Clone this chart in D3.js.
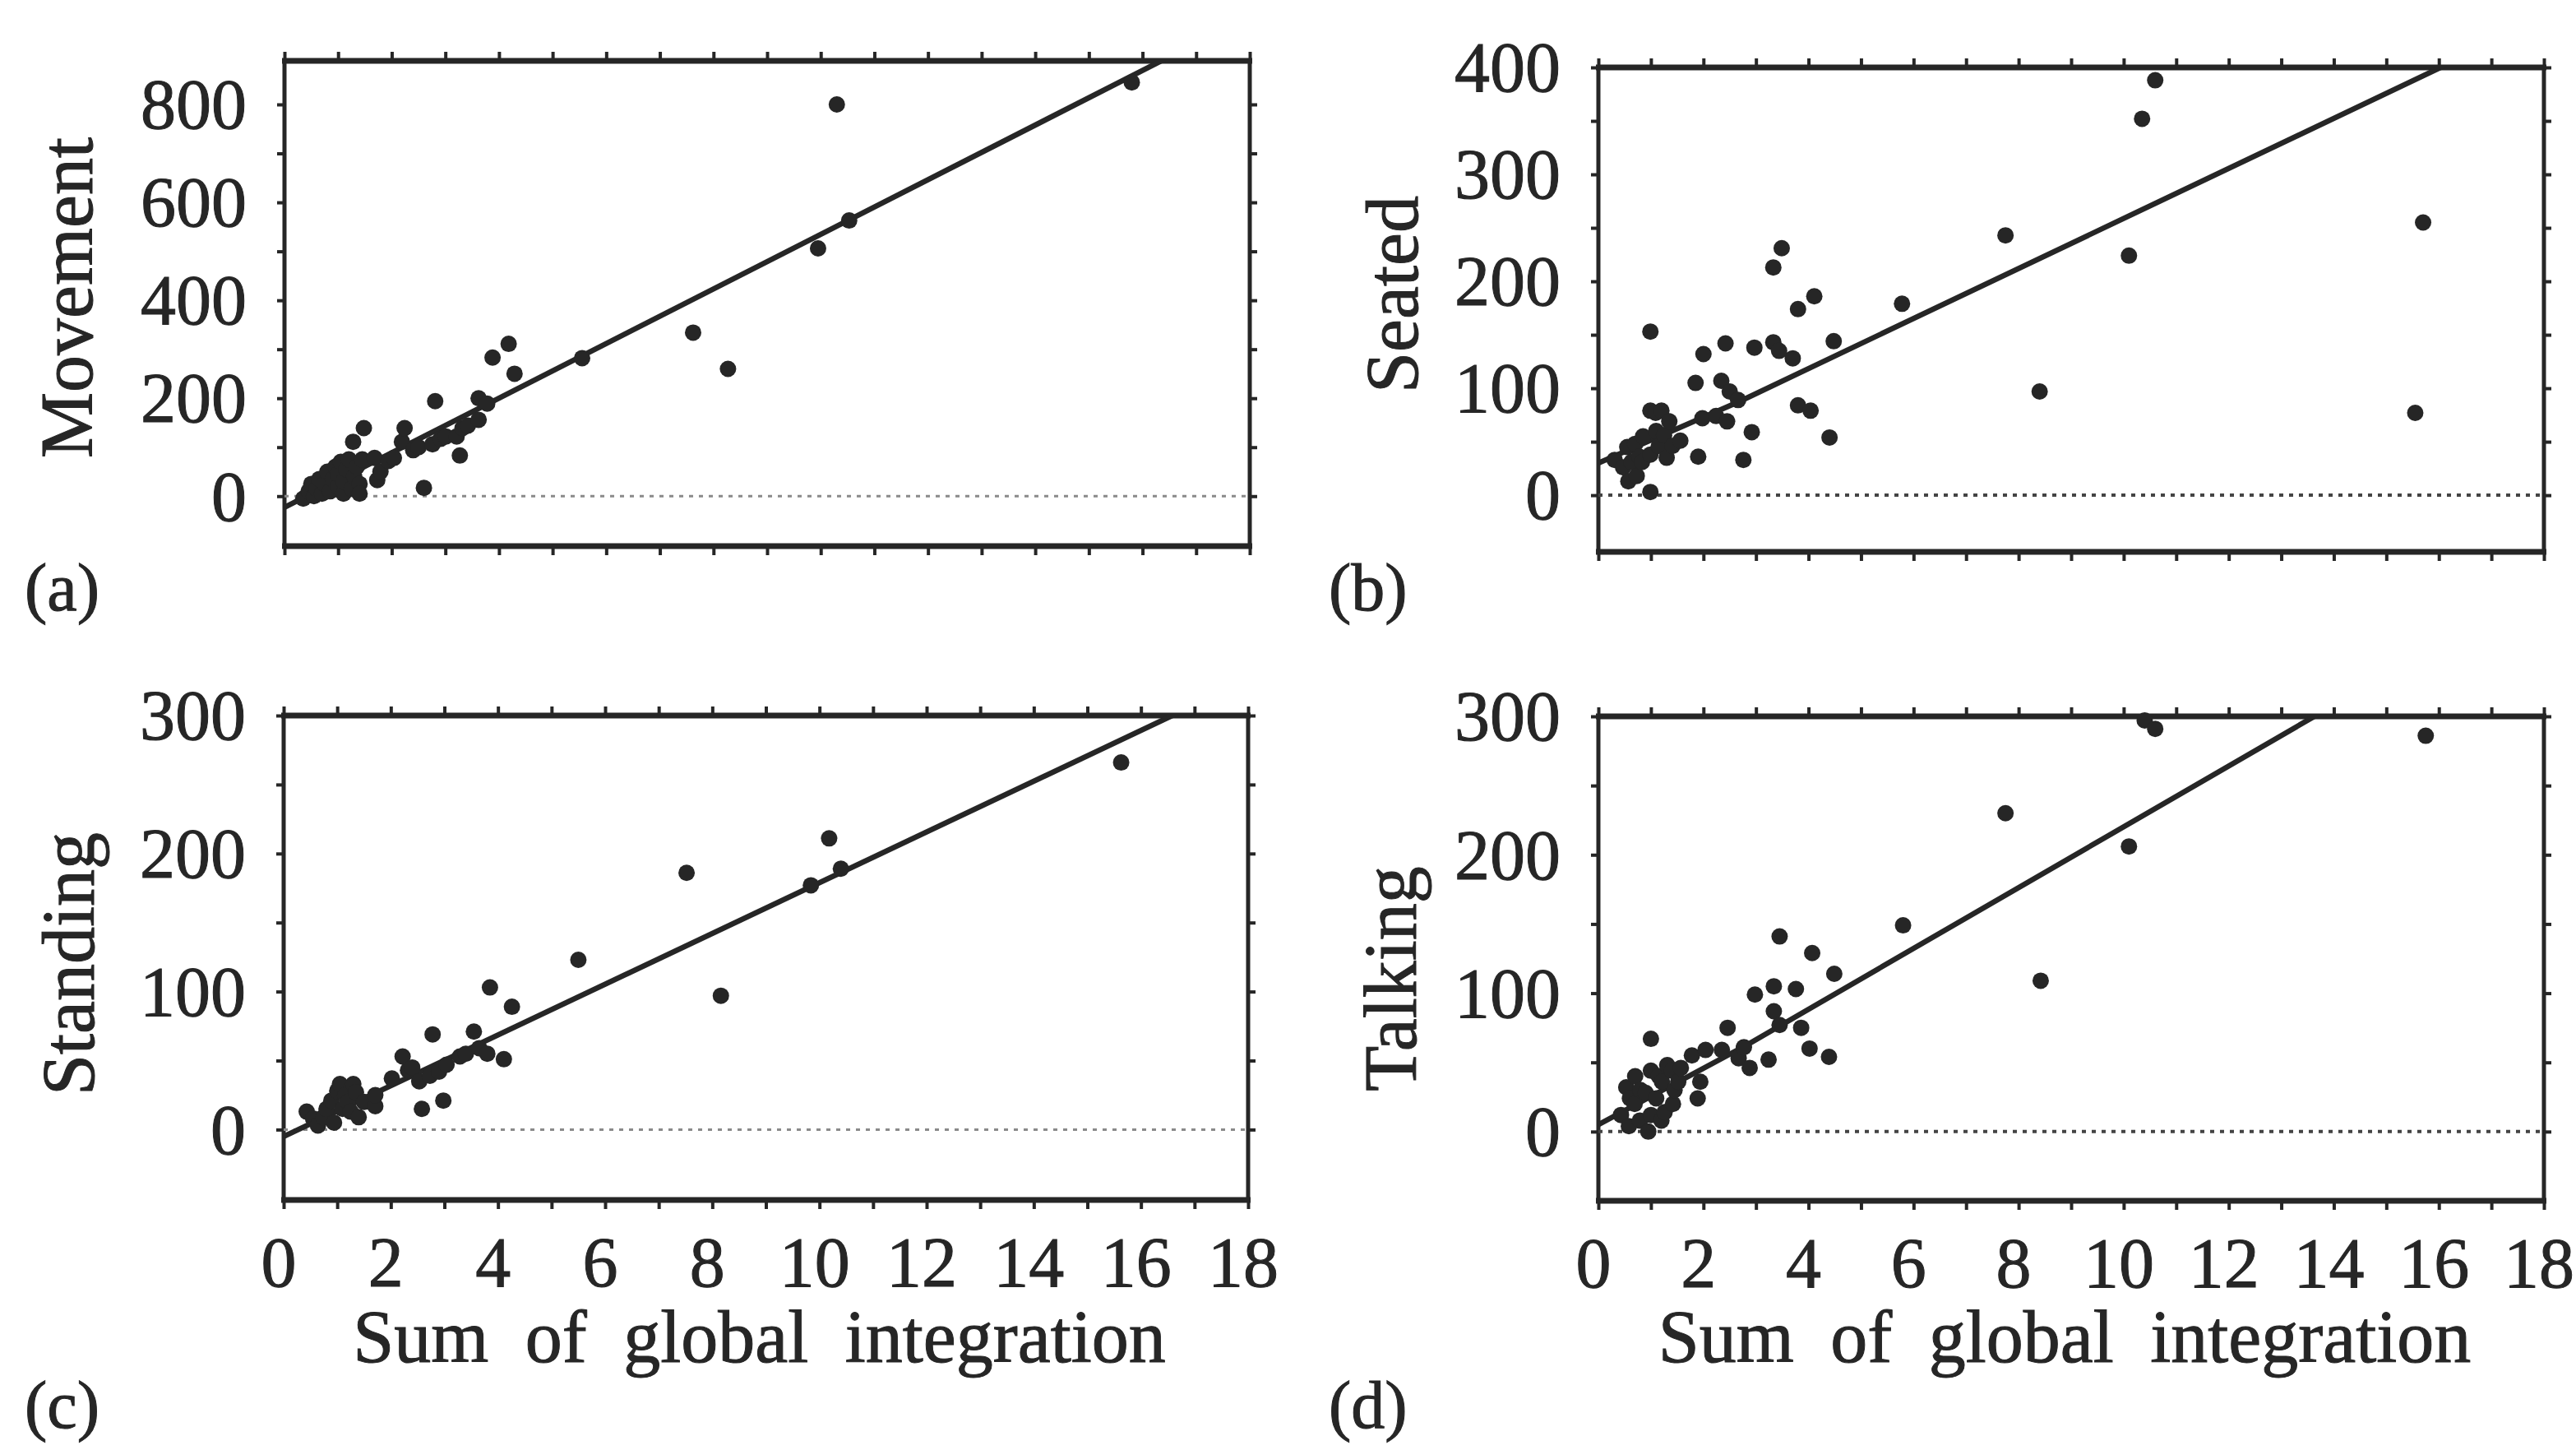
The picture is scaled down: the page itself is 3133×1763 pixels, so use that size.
<!DOCTYPE html>
<html>
<head>
<meta charset="utf-8">
<script src="https://cdn.jsdelivr.net/npm/d3@7"></script>
<style>
body { margin: 0; background: #fff; }
svg { display: block; font-family: "Liberation Serif", "Times New Roman", serif; }
</style>
</head>
<body>
<svg id="chart"></svg>
<script>
var width = 3133,
    height = 1763

// x values: sum of global integration
var xTickLabels = [0, 2, 4, 6, 8, 10, 12, 14, 16, 18]

// (a) Movement
var movement = [[0.35,-5],[0.45,10],[0.5,25],[0.55,0],[0.6,15],[0.65,35],[0.7,5],[0.75,25],[0.8,50],[0.85,10],
    [0.9,35],[0.95,60],[1.0,20],[1.0,45],[1.05,70],[1.1,5],[1.1,30],[1.15,55],[1.2,75],[1.25,15],[1.3,40],
    [1.35,60],[1.4,25],[1.4,5],[1.45,75],[1.28,111],[1.48,139],[1.68,78],[1.73,33],[1.79,50],[1.94,72],
    [2.04,78],[2.19,111],[2.24,139],[2.4,94],[2.5,100],[2.6,17],[2.76,106],[2.81,194],[2.91,117],[3.01,122],
    [3.21,122],[3.27,83],[3.32,139],[3.42,144],[3.62,156],[3.62,200],[3.78,189],[3.88,283],[4.18,311],
    [4.29,250],[5.55,282],[7.62,334],[8.27,260],[9.95,506],[10.3,800],[10.53,563],[15.8,845]]
var movementFit = [[0, -23], [18, 981]]
var movementTicks = [0, 200, 400, 600, 800]

// (b) Seated
var seated = [[0.31,33],[0.47,26],[0.55,45],[0.57,13],[0.63,31],[0.7,48],[0.73,18],[0.78,36],[0.83,31],
    [0.85,55],[0.99,3],[0.99,38],[0.99,79],[1.09,77],[1.1,60],[1.15,46],[1.2,79],[1.25,56],[1.3,35],
    [1.35,69],[1.41,46],[1.56,51],[0.99,153],[1.85,105],[1.9,36],[1.98,72],[2.0,132],[2.24,74],[2.34,107],
    [2.42,142],[2.45,69],[2.5,97],[2.66,89],[2.76,33],[2.92,59],[2.97,138],[3.33,143],[3.33,213],[3.44,135],
    [3.49,231],[3.7,128],[3.8,174],[3.8,84],[4.04,79],[4.11,186],[4.4,54],[4.48,144],[5.78,179],[7.75,243],
    [8.4,97],[10.1,224],[10.35,352],[10.6,388],[15.7,255],[15.55,77]]
var seatedFit = [[0, 30], [2.7, 88], [18, 446]]
var seatedTicks = [0, 100, 200, 300, 400]

// (c) Standing
var standing = [[0.43,13],[0.55,8],[0.64,3],[0.74,9],[0.8,15],[0.89,21],[0.94,5],[1.0,28],[1.05,33],[1.1,15],
    [1.15,25],[1.2,20],[1.25,13],[1.3,33],[1.35,27],[1.4,9],[1.5,20],[1.71,17],[1.71,25],[2.02,37],[2.22,53],
    [2.32,43],[2.4,45],[2.53,35],[2.58,15],[2.73,39],[2.78,69],[2.9,42],[2.98,21],[3.04,47],[3.29,53],
    [3.4,55],[3.55,71],[3.65,59],[3.8,55],[3.85,103],[4.11,51],[4.26,89],[5.5,123],[7.52,186],[8.16,97],
    [9.84,177],[10.18,211],[10.4,189],[15.63,266]]
var standingFit = [[0, -5], [18, 326]]
var standingTicks = [0, 100, 200, 300]

// (d) Talking
var talking = [[0.43,12],[0.53,32],[0.58,4],[0.6,24],[0.69,20],[0.7,40],[0.79,8],[0.8,30],[0.9,28],[0.95,0],
    [1.0,12],[1.0,44],[1.0,67],[1.1,24],[1.15,40],[1.2,8],[1.21,36],[1.26,14],[1.31,48],[1.4,44],[1.42,20],
    [1.45,30],[1.52,36],[1.57,46],[1.78,55],[1.89,24],[1.94,36],[2.04,59],[2.35,59],[2.46,75],[2.67,53],
    [2.77,61],[2.88,46],[2.98,99],[3.24,52],[3.34,105],[3.34,87],[3.45,77],[3.45,141],[3.76,103],[3.86,75],
    [4.02,60],[4.07,129],[4.39,54],[4.49,114],[5.8,149],[7.75,230],[8.42,109],[10.1,206],[10.4,297],
    [10.6,291],[15.75,286]]
var talkingFit = [[0, 5], [2.8, 62], [18, 396]]
var talkingTicks = [0, 100, 200, 300]

var panels = [
    {name: "Movement", tag: "(a)", data: movement, fit: movementFit, labels: movementTicks, step: 100,
     box: {l: 346, t: 74, r: 1520, b: 664}, yDom: [-102, 889], xLabels: false,
     title: [112, 362], tagPos: [30, 742], zero: ["#8a8a8a", 3]},
    {name: "Seated", tag: "(b)", data: seated, fit: seatedFit, labels: seatedTicks, step: 50,
     box: {l: 1944, t: 82, r: 3094, b: 671}, yDom: [-53, 400], xLabels: false,
     title: [1724, 358], tagPos: [1616, 742], zero: ["#444", 4]},
    {name: "Standing", tag: "(c)", data: standing, fit: standingFit, labels: standingTicks, step: 50,
     box: {l: 345, t: 870, r: 1518, b: 1459}, yDom: [-51, 300], xLabels: true,
     title: [114, 1172], tagPos: [30, 1736], zero: ["#8a8a8a", 3]},
    {name: "Talking", tag: "(d)", data: talking, fit: talkingFit, labels: talkingTicks, step: 50,
     box: {l: 1944, t: 871, r: 3094, b: 1460}, yDom: [-50, 300], xLabels: true,
     title: [1722, 1190], tagPos: [1616, 1736], zero: ["#444", 4]}
]

var ink = "#262626"

var svg = d3.select("#chart").attr("width", width).attr("height", height)
svg.append("rect").attr("width", width).attr("height", height).attr("fill", "#fff")

panels.forEach(function(p, i) {
    var b = p.box
    var x = d3.scaleLinear().domain([0, 18]).range([b.l, b.r])
    var y = d3.scaleLinear().domain(p.yDom).range([b.b, b.t])
    var g = svg.append("g")

    g.append("clipPath").attr("id", "clip" + i)
        .append("rect").attr("x", b.l).attr("y", b.t).attr("width", b.r - b.l).attr("height", b.b - b.t)

    // ticks every unit on top and bottom, every step on the sides
    var xMinor = d3.range(0, 19, 1)
    var yMinor = d3.range(0, p.yDom[1] + 0.1, p.step)

    var styleAxis = function(sel) {
        sel.select(".domain").remove()
        sel.selectAll(".tick line").attr("stroke", ink).attr("stroke-width", 4)
    }
    g.append("g").attr("transform", "translate(0," + b.t + ")")
        .call(d3.axisTop(x).tickValues(xMinor).tickSize(11).tickFormat("")).call(styleAxis)
    g.append("g").attr("transform", "translate(0," + b.b + ")")
        .call(d3.axisBottom(x).tickValues(xMinor).tickSize(11).tickFormat("")).call(styleAxis)
    g.append("g").attr("transform", "translate(" + b.l + ",0)")
        .call(d3.axisLeft(y).tickValues(yMinor).tickSize(9).tickFormat("")).call(styleAxis)
    g.append("g").attr("transform", "translate(" + b.r + ",0)")
        .call(d3.axisRight(y).tickValues(yMinor).tickSize(9).tickFormat("")).call(styleAxis)

    // frame: heavier top and bottom rules
    g.append("line").attr("x1", b.l).attr("x2", b.l).attr("y1", b.t).attr("y2", b.b)
        .attr("stroke", ink).attr("stroke-width", 5)
    g.append("line").attr("x1", b.r).attr("x2", b.r).attr("y1", b.t).attr("y2", b.b)
        .attr("stroke", ink).attr("stroke-width", 5)
    g.append("line").attr("x1", b.l - 3).attr("x2", b.r + 3).attr("y1", b.t).attr("y2", b.t)
        .attr("stroke", ink).attr("stroke-width", 7)
    g.append("line").attr("x1", b.l - 3).attr("x2", b.r + 3).attr("y1", b.b).attr("y2", b.b)
        .attr("stroke", ink).attr("stroke-width", 7)

    // dotted zero line
    g.append("line").attr("x1", b.l).attr("x2", b.r).attr("y1", y(0)).attr("y2", y(0))
        .attr("stroke", p.zero[0]).attr("stroke-width", p.zero[1]).attr("stroke-dasharray", "5,7")

    // y tick labels
    g.selectAll(".ylab").data(p.labels).enter().append("text")
        .attr("x", b.l - 46).attr("y", function(d) { return y(d) })
        .attr("dy", "0.34em").attr("text-anchor", "end")
        .attr("font-size", 86).attr("fill", ink).attr("stroke", ink).attr("stroke-width", 1)
        .text(function(d) { return d })

    if (p.xLabels) {
        g.selectAll(".xlab").data(xTickLabels).enter().append("text")
            .attr("x", function(d) { return x(d) - 6 }).attr("y", b.b + 105)
            .attr("text-anchor", "middle").attr("font-size", 86)
            .attr("fill", ink).attr("stroke", ink).attr("stroke-width", 1)
            .text(function(d) { return d })
        g.append("text").attr("x", (b.l + b.r) / 2 - 8).attr("y", 1656)
            .attr("text-anchor", "middle").attr("font-size", 90).attr("word-spacing", 22)
            .attr("fill", ink).attr("stroke", ink).attr("stroke-width", 1)
            .text("Sum of global integration")
    }

    // axis title
    g.append("text").attr("transform", "translate(" + p.title[0] + "," + p.title[1] + ") rotate(-90)")
        .attr("text-anchor", "middle").attr("font-size", 90)
        .attr("fill", ink).attr("stroke", ink).attr("stroke-width", 1).text(p.name)

    // panel tag
    g.append("text").attr("x", p.tagPos[0]).attr("y", p.tagPos[1])
        .attr("font-size", 82).attr("fill", ink).attr("stroke", ink).attr("stroke-width", 1).text(p.tag)

    // fitted line
    var line = d3.line().x(function(d) { return x(d[0]) }).y(function(d) { return y(d[1]) })
    g.append("path").datum(p.fit).attr("d", line)
        .attr("clip-path", "url(#clip" + i + ")")
        .attr("fill", "none").attr("stroke", ink).attr("stroke-width", 6.5)

    // points
    g.selectAll("circle").data(p.data).enter().append("circle")
        .attr("cx", function(d) { return x(d[0]) })
        .attr("cy", function(d) { return y(d[1]) })
        .attr("r", 10).attr("fill", ink)
})
</script>
</body>
</html>
